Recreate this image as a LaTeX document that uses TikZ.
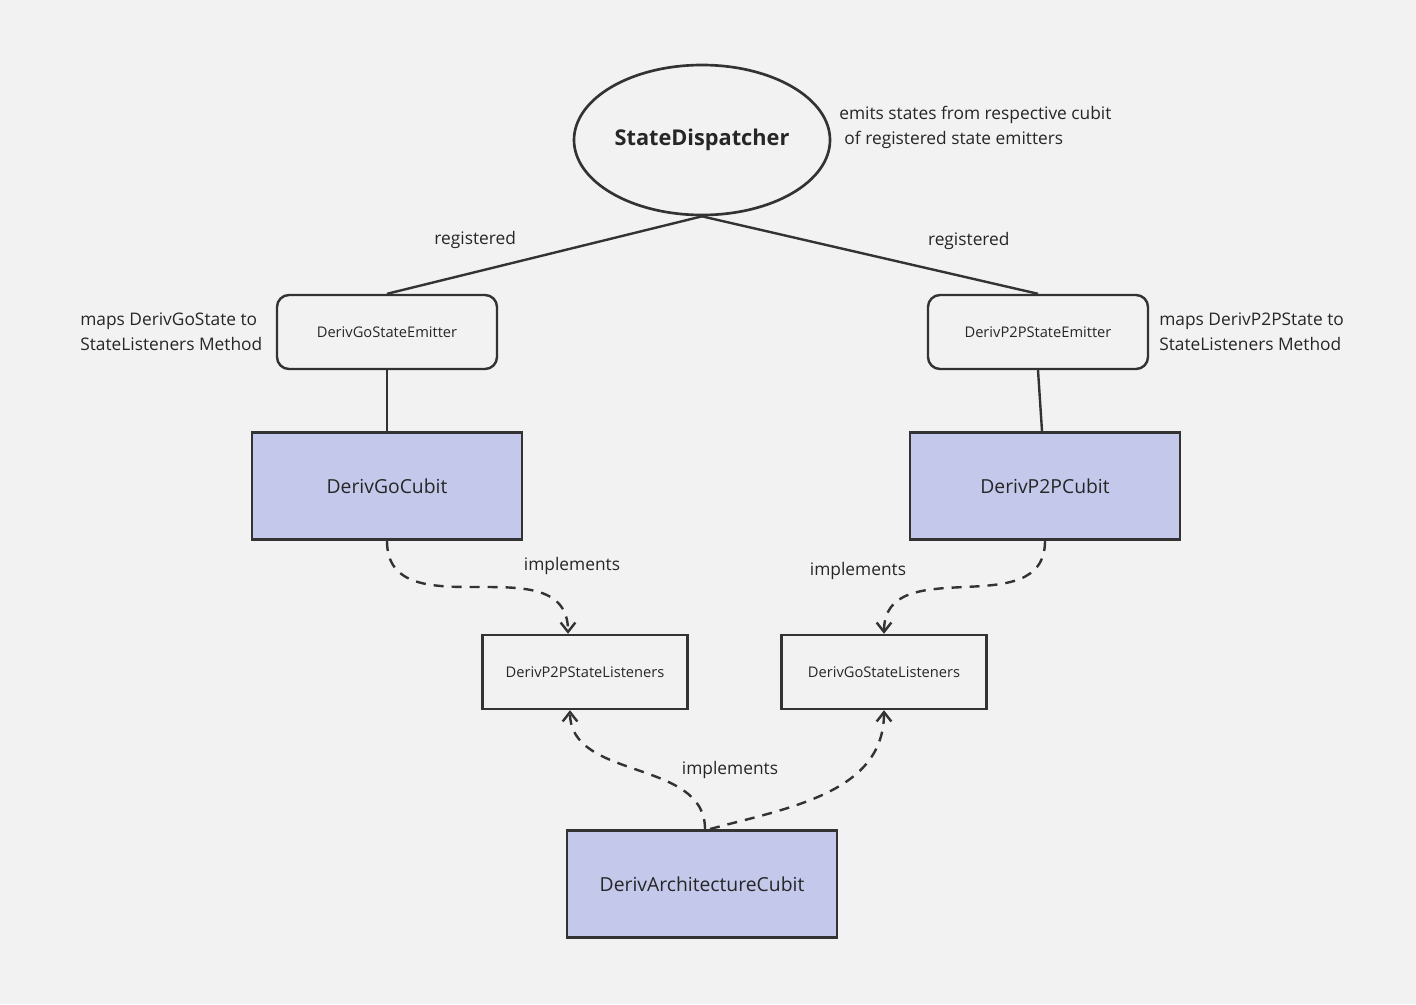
\documentclass[tikz,border=0pt]{standalone}
\usepackage{fontspec}
\setmainfont{Open Sans}
\usetikzlibrary{shapes.geometric,arrows.meta,calc}
\definecolor{bg}{RGB}{242,242,242}
\definecolor{ink}{RGB}{51,51,51}
\definecolor{cubitfill}{RGB}{196,201,236}
\tikzset{
  emitbox/.style={draw=ink,line width=1.8pt,rounded corners=9pt,fill=bg,
    minimum width=165pt,minimum height=55.5pt,inner sep=0pt,
    font=\fontsize{11}{13}\selectfont},
  cubitbox/.style={draw=ink,line width=2pt,fill=cubitfill,
    minimum width=202.5pt,minimum height=80.5pt,inner sep=0pt,
    font=\fontsize{14.5}{17}\selectfont},
  listbox/.style={draw=ink,line width=1.8pt,fill=bg,
    minimum width=153.75pt,minimum height=55.5pt,inner sep=0pt,
    font=\fontsize{11}{13}\selectfont},
  note/.style={align=left,inner sep=0pt,font=\fontsize{13}{18.75}\selectfont},
  lbl/.style={inner sep=0pt,font=\fontsize{13}{15}\selectfont},
  link/.style={draw=ink,line width=1.8pt},
  impl/.style={draw=ink,line width=1.8pt,dash pattern=on 7.5pt off 6pt,
    -{Straight Barb[length=7pt,width=11pt]}}
}
\begin{document}
\begin{tikzpicture}[x=0.75pt,y=-0.75pt,text=black!85]
        \fill[bg] (0,0) rectangle (1416,1004);
        \useasboundingbox (0,0) rectangle (1416,1004);
        % top
        \node[ellipse,draw=ink,line width=2pt,minimum width=192pt,minimum height=112.5pt,
          inner sep=0pt,font=\fontsize{16.3}{19}\selectfont\bfseries] (disp) at (702,140) {StateDispatcher};
        \node[note,anchor=west] (dispnote) at (839,127) {emits states from respective cubit\\\hspace*{0.3em}of registered state emitters};
        % emitters
        \node[emitbox] (goemit) at (387,332) {DerivGoStateEmitter};
        \node[emitbox] (ppemit) at (1038,332) {DerivP2PStateEmitter};
        \node[note,anchor=west] (gonote) at (80,332) {maps DerivGoState to\\StateListeners Method};
        \node[note,anchor=west] (ppnote) at (1159,332) {maps DerivP2PState to\\StateListeners Method};
        \draw[link] (disp.south) -- (goemit.north) node[lbl,pos=0.72,yshift=24pt] {registered};
        \draw[link] (disp.south) -- (ppemit.north) node[lbl,pos=0.794,yshift=28pt] {registered};
        % cubits
        \node[cubitbox] (gocubit) at (387,486) {DerivGoCubit};
        \node[cubitbox] (ppcubit) at (1045,486) {DerivP2PCubit};
        \draw[link] (goemit.south) -- (gocubit.north);
        \draw[link] (ppemit.south) -- ($(ppcubit.north)+(-3,0)$);
        % listeners
        \node[listbox] (pplist) at (585,672) {DerivP2PStateListeners};
        \node[listbox] (golist) at (884,672) {DerivGoStateListeners};
        \node[cubitbox] (archcubit) at (702,884) {DerivArchitectureCubit};
        \draw[impl] (gocubit.south) to[out=-90,in=90,looseness=1.15] ($(pplist.north)+(-17,0)$);
        \draw[impl] (ppcubit.south) to[out=-90,in=90,looseness=1.15] (golist.north);
        \draw[impl] ($(archcubit.north)+(3,0)$) to[out=90,in=-90] ($(pplist.south)+(-15,0)$);
        \draw[impl] ($(archcubit.north)+(8,0)$) to[out=15,in=-90] (golist.south);
        \node[lbl] (impl1) at (572,566) {implements};
        \node[lbl] (impl2) at (858,571) {implements};
        \node[lbl] (impl3) at (730,770) {implements};
    \end{tikzpicture}
\end{document}
